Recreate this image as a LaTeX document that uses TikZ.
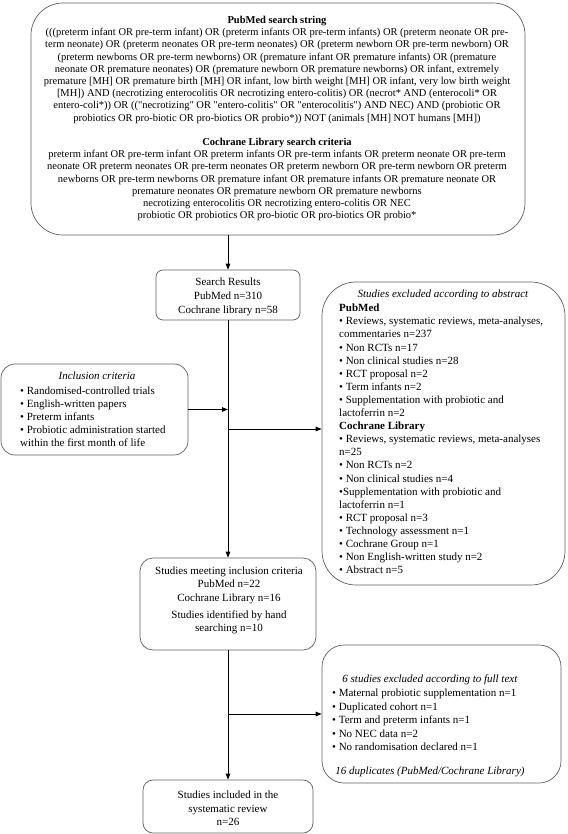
\documentclass[tikz,border=0pt]{standalone}
\usepackage{fontspec}
\setmainfont{Liberation Serif}
\newfontfamily\qtfont{Liberation Serif}
\usetikzlibrary{arrows.meta}
\definecolor{boxgray}{RGB}{95,95,95}
\begin{document}
\begin{tikzpicture}[x=1pt,y=-1pt,
  box/.style={draw=boxgray, line width=0.7pt, inner sep=0pt},
  tel/.style={font=\fontsize{11}{13.3}\selectfont, inner sep=0pt},
  tten/.style={font=\qtfont\fontsize{10.5}{12.2}\selectfont, inner sep=0pt},
  conn/.style={line width=1pt, draw=black},
  arr/.style={conn, -{Triangle[length=6pt,width=4.5pt]}}]
\useasboundingbox (0,0) rectangle (567,834);

% boxes
\node[box, rounded corners=32pt, minimum width=494pt, minimum height=232pt] (top) at (278,119) {};
\node[box, rounded corners=7pt, minimum width=144pt, minimum height=50pt] (search) at (228,295) {};
\node[box, rounded corners=14pt, minimum width=187pt, minimum height=91pt] (incl) at (94.5,409.5) {};
\node[box, rounded corners=34pt, minimum width=243pt, minimum height=303pt] (excl) at (443.5,433.5) {};
\node[box, rounded corners=13pt, minimum width=176pt, minimum height=92pt] (meet) at (228,604) {};
\node[box, rounded corners=22pt, minimum width=239pt, minimum height=138pt] (full) at (441.5,714) {};
\node[box, rounded corners=10pt, minimum width=170pt, minimum height=53pt] (final) at (228,806.5) {};

% texts
\node[tten, align=center] (toptext) at (277,118.5) {\textbf{PubMed search string}\\
(((preterm infant OR pre-term infant) OR (preterm infants OR pre-term infants) OR (preterm neonate OR pre-\\
term neonate) OR (preterm neonates OR pre-term neonates) OR (preterm newborn OR pre-term newborn) OR\\
(preterm newborns OR pre-term newborns) OR (premature infant OR premature infants) OR (premature\\
neonate OR premature neonates) OR (premature newborn OR premature newborns) OR infant, extremely\\
premature [MH] OR premature birth [MH] OR infant, low birth weight [MH] OR infant, very low birth weight\\
{}[MH]) AND (necrotizing enterocolitis OR necrotizing entero-colitis) OR (necrot* AND (enterocoli* OR\\
entero-coli*)) OR (("necrotizing" OR "entero-colitis" OR "enterocolitis") AND NEC) AND (probiotic OR\\
probiotics OR pro-biotic OR pro-biotics OR probio*)) NOT (animals [MH] NOT humans [MH])\\[12.2pt]
\textbf{Cochrane Library search criteria}\\
preterm infant OR pre-term infant OR preterm infants OR pre-term infants OR preterm neonate OR pre-term\\
neonate OR preterm neonates OR pre-term neonates OR preterm newborn OR pre-term newborn OR preterm\\
newborns OR pre-term newborns OR premature infant OR premature infants OR premature neonate OR\\
premature neonates OR premature newborn OR premature newborns\\
necrotizing enterocolitis OR necrotizing entero-colitis OR NEC\\
probiotic OR probiotics OR pro-biotic OR pro-biotics OR probio*};

\node[tel, align=center, font=\fontsize{11}{14}\selectfont] (searchtext) at (228,297) {Search Results\\PubMed n=310\\Cochrane library n=58};

\node[tel] (incltitle) at (97,376) {\textit{Inclusion criteria}};
\node[tel, align=left, anchor=west, font=\fontsize{11}{13}\selectfont] (inclbody) at (20,417) {• Randomised-controlled trials\\
• English-written papers\\
• Preterm infants\\
• Probiotic administration started\\
within the first month of life};

\node[tel] (excltitle) at (443,295) {\textit{Studies excluded according to abstract}};
\node[tel, align=left, anchor=west, font=\fontsize{11}{13.1}\selectfont] (exclbody) at (339,439) {\textbf{PubMed}\\
• Reviews, systematic reviews, meta-analyses,\\
commentaries n=237\\
• Non RCTs n=17\\
• Non clinical studies n=28\\
• RCT proposal n=2\\
• Term infants n=2\\
• Supplementation with probiotic and\\
lactoferrin n=2\\
\textbf{Cochrane Library}\\
• Reviews, systematic reviews, meta-analyses\\
n=25\\
• Non RCTs n=2\\
• Non clinical studies n=4\\
•Supplementation with probiotic and\\
lactoferrin n=1\\
• RCT proposal n=3\\
• Technology assessment n=1\\
• Cochrane Group n=1\\
• Non English-written study n=2\\
• Abstract n=5};

\node[tel, align=center, font=\fontsize{11}{13.5}\selectfont] (meettext) at (229,600.5) {Studies meeting inclusion criteria\\PubMed n=22\\Cochrane Library n=16\\[3.5pt]Studies identified by hand\\searching n=10};

\node[tel] (fulltitle) at (430,680) {\textit{6 studies excluded according to full text}};
\node[tel, align=left, anchor=west, font=\fontsize{11}{13.4}\selectfont] (fullbody) at (332,720) {• Maternal probiotic supplementation n=1\\
• Duplicated cohort n=1\\
• Term and preterm infants n=1\\
• No NEC data n=2\\
• No randomisation declared n=1};
\node[tel] (fullfoot) at (430,772) {\textit{16 duplicates (PubMed/Cochrane Library)}};

\node[tel, align=center, font=\fontsize{11}{13.5}\selectfont] (finaltext) at (228,808.5) {Studies included in the\\systematic review\\n=26};

% connectors
\coordinate (j1) at (228,429);
\draw[arr] (search.north |- top.south) -- (search.north);
\draw[arr] (search.south) -- (meet.north);
\draw[arr] (incl.east) -- (incl.east -| search.south);
\draw[arr] (j1) -- (j1 -| excl.west);
\draw[arr] (meet.south) -- (final.north);
\draw[arr] (full.west -| meet.south) -- (full.west);
\end{tikzpicture}
\end{document}
